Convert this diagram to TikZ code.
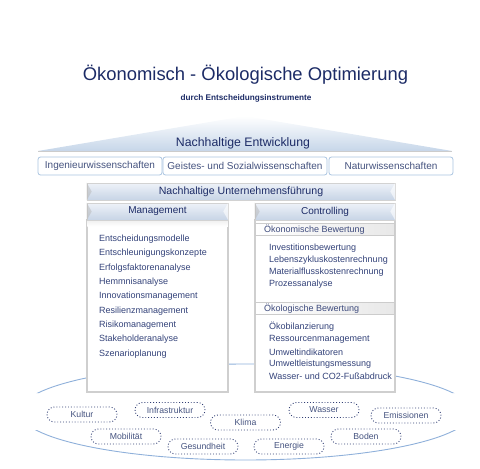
\documentclass[tikz,border=0pt]{standalone}
\usepackage{fontspec}
\setmainfont{Liberation Sans}
\usetikzlibrary{shadows}
\definecolor{navy}{HTML}{1C2B66}
\definecolor{itemcol}{HTML}{34437A}
\definecolor{disctext}{HTML}{45537F}
\definecolor{discborder}{HTML}{A9C4E0}
\definecolor{ellcol}{HTML}{8FB0DA}
\definecolor{roofblue}{HTML}{C6D6E9}
\definecolor{hdrtop}{HTML}{EEF2F8}
\definecolor{hdrbot}{HTML}{C7D4E6}
\definecolor{bodyedge}{HTML}{CFCFCF}
\begin{document}
\begin{tikzpicture}[x=1pt,y=-1pt,
  fs/.style={font=\fontsize{#1}{#1}\selectfont},
  fsb/.style={font=\fontsize{#1}{#1}\selectfont\bfseries},
  disc/.style={draw=discborder, line width=0.8pt, fill=white, rounded corners=2.5pt,
    minimum height=18pt, inner sep=0pt, text=disctext, fs=10},
  hdr/.style={top color=hdrtop, bottom color=hdrbot, draw=gray!35, line width=0.6pt,
    minimum height=17pt, inner sep=0pt, text=navy, fs=10},
  bodybox/.style={fill=white, draw=bodyedge, line width=1.5pt, inner sep=0pt,
    drop shadow={opacity=0.15, shadow xshift=1pt, shadow yshift=-1.2pt}},
  subhdr/.style={left color=white, right color=gray!18, draw=gray!40, line width=0.6pt,
    minimum height=12pt, minimum width=139pt, inner sep=0pt},
  item/.style={anchor=west, inner sep=0pt, text=itemcol, fs=9},
  subtxt/.style={anchor=west, inner sep=0pt, text=navy!85, fs=9},
  dotnode/.style={draw=navy!90, dotted, line width=0.9pt, rounded corners=7.5pt,
    minimum width=70pt, minimum height=15pt, inner sep=0pt, text=disctext, fs=8.7},
  darkwedge/.style={fill=gray!60, opacity=0.45},
  lightwedge/.style={fill=white, opacity=0.6}
]
\useasboundingbox (0,0) rectangle (480,469);

% title
\node[anchor=base, inner sep=0pt, text=navy, fs=18.4] (title) at (245.5,80) {Ökonomisch - Ökologische Optimierung};
\node[anchor=base, inner sep=0pt, text=navy, fsb=8.2] (subtitle) at (246,100) {durch Entscheidungsinstrumente};

% roof
\shade[top color=white, bottom color=roofblue] (38,151) -- (245,116) -- (452,151) -- cycle;
\draw[gray!40, line width=1.3pt] (38,151.5) -- (452,151.5);
\node[anchor=base, inner sep=0pt, text=navy, fs=12.3] (ne) at (243,146.5) {Nachhaltige Entwicklung};

% disciplines
\node[disc, minimum width=124pt] (ing) at (100,166) {Ingenieurwissenschaften};
\node[disc, minimum width=164pt] (geist) at (245,166) {Geistes- und Sozialwissenschaften};
\node[disc, minimum width=124pt] (natur) at (391,166) {Naturwissenschaften};

% big ellipse (open at the sides)
\begin{scope}
  \clip (0,0) rectangle (480,393) (0,430) rectangle (480,469);
  \draw[ellcol, line width=0.9pt] (245.5,412) ellipse [x radius=226, y radius=48];
\end{scope}

% Nachhaltige Unternehmensfuehrung
\node[hdr, minimum width=308pt, fs=10.6] (nu) at (241,191.5) {Nachhaltige Unternehmensführung};
\fill[darkwedge] (nu.north west) -- ([xshift=5pt]nu.west) -- (nu.south west) -- cycle;
\fill[lightwedge] (nu.north east) -- ([xshift=-5pt]nu.east) -- (nu.south east) -- cycle;

% Management
\node[bodybox, minimum width=141pt, minimum height=172pt] (mbody) at (157.5,306) {};
\shade[top color=gray!12, bottom color=white] ([xshift=1pt,yshift=-1pt]mbody.north west) rectangle ([xshift=-1pt,yshift=-7pt]mbody.north east);
\node[hdr, minimum width=141pt] (mhdr) at (157.5,211.5) {Management};
\fill[darkwedge] (mhdr.north west) -- ([xshift=5pt]mhdr.west) -- (mhdr.south west) -- cycle;
\fill[lightwedge] (mhdr.north east) -- ([xshift=-5pt]mhdr.east) -- (mhdr.south east) -- cycle;
\node[item] (m1) at (99,239.3) {Entscheidungsmodelle};
\node[item] (m2) at (99,253.6) {Entschleunigungskonzepte};
\node[item] (m3) at (99,267.9) {Erfolgsfaktorenanalyse};
\node[item] (m4) at (99,282.2) {Hemmnisanalyse};
\node[item] (m5) at (99,296.5) {Innovationsmanagement};
\node[item] (m6) at (99,310.8) {Resilienzmanagement};
\node[item] (m7) at (99,325.1) {Risikomanagement};
\node[item] (m8) at (99,339.4) {Stakeholderanalyse};
\node[item] (m9) at (99,353.7) {Szenarioplanung};

% Controlling
\node[bodybox, minimum width=140pt, minimum height=172pt] (cbody) at (325,306) {};
\node[hdr, minimum width=140pt] (chdr) at (325,211.5) {Controlling};
\fill[darkwedge] (chdr.north west) -- ([xshift=5pt]chdr.west) -- (chdr.south west) -- cycle;
\fill[lightwedge] (chdr.north east) -- ([xshift=-5pt]chdr.east) -- (chdr.south east) -- cycle;
\node[subhdr] (s1) at (325,229.5) {};
\node[subtxt] (s1t) at (264,229.5) {Ökonomische Bewertung};
\node[item] (c1) at (269,248) {Investitionsbewertung};
\node[item] (c2) at (269,260.2) {Lebenszykluskostenrechnung};
\node[item] (c3) at (269,272.4) {Materialflusskostenrechnung};
\node[item] (c4) at (269,284.6) {Prozessanalyse};
\node[subhdr] (s2) at (325,308.5) {};
\node[subtxt] (s2t) at (264,308.5) {Ökologische Bewertung};
\node[item] (c5) at (269,327) {Ökobilanzierung};
\node[item] (c6) at (269,339.4) {Ressourcenmanagement};
\node[item] (c7) at (269,351.8) {Umweltindikatoren};
\node[item] (c8) at (269,364.2) {Umweltleistungsmessung};
\node[item] (c9) at (269,376.6) {Wasser- und CO2-Fußabdruck};

% dotted topics
\node[dotnode] (kultur) at (82,414.5) {Kultur};
\node[dotnode] (infra) at (170,410) {Infrastruktur};
\node[dotnode] (klima) at (245.5,422.5) {Klima};
\node[dotnode] (wasser) at (324,410) {Wasser};
\node[dotnode] (emis) at (406,415.5) {Emissionen};
\node[dotnode] (mobil) at (126,436.5) {Mobilität};
\node[dotnode] (gesund) at (203,446.5) {Gesundheit};
\node[dotnode] (energie) at (289,446.5) {Energie};
\node[dotnode] (boden) at (366,436.5) {Boden};
\end{tikzpicture}
\end{document}
